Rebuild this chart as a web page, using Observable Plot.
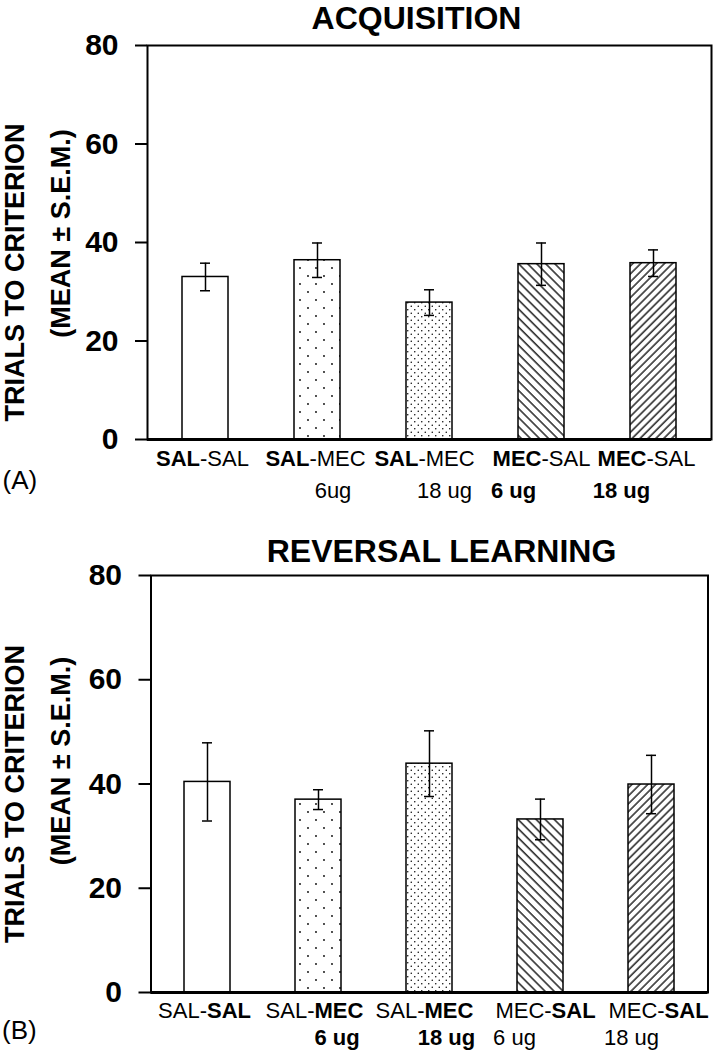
<!DOCTYPE html>
<html>
<head>
<meta charset="utf-8">
<script src="https://cdn.jsdelivr.net/npm/d3@7"></script>
<script src="https://cdn.jsdelivr.net/npm/@observablehq/plot@0.6"></script>
<style>
  body { margin: 0; background: #fff; }
  #chart svg { display: block; }
</style>
</head>
<body>
<div id="chart"></div>
<script>
// ---------------- DATA ----------------
const categories = ["SAL-SAL", "SAL-MEC 6ug", "SAL-MEC 18ug", "MEC-SAL 6ug", "MEC-SAL 18ug"];
const yTicks = [0, 20, 40, 60, 80];

const acqTitle = "ACQUISITION";
const acqMean = [33.0, 36.4, 27.8, 35.6, 35.8];
const acqSem  = [2.8, 3.5, 2.6, 4.3, 2.7];
const acqLabel1 = ["**SAL**-SAL", "**SAL**-MEC", "**SAL**-MEC", "**MEC**-SAL", "**MEC**-SAL"];
const acqLabel2 = ["", "6ug", "18 ug", "**6 ug**", "**18 ug**"];

const revTitle = "REVERSAL LEARNING";
const revMean = [40.4, 37.0, 43.9, 33.2, 39.9];
const revSem  = [7.5, 1.9, 6.3, 3.9, 5.6];
const revLabel1 = ["SAL-**SAL**", "SAL-**MEC**", "SAL-**MEC**", "MEC-**SAL**", "MEC-**SAL**"];
const revLabel2 = ["", "**6 ug**", "**18 ug**", "6 ug", "18 ug"];

const yLabel1 = "TRIALS TO CRITERION";
const yLabel2 = "(MEAN \u00B1 S.E.M.)";

// ---------------- LAYOUT ----------------
const FONT = "'Liberation Sans', Arial, Helvetica, sans-serif";

function addPatterns(svg, id) {
  const defs = d3.select(svg).insert("defs", ":first-child");
  const p1 = defs.append("pattern").attr("id", `${id}-p1`).attr("patternUnits", "userSpaceOnUse")
    .attr("width", 16).attr("height", 16);
  p1.append("rect").attr("width", 16).attr("height", 16).attr("fill", "white");
  p1.append("circle").attr("cx", 4).attr("cy", 4).attr("r", 0.9).attr("fill", "black");
  p1.append("circle").attr("cx", 12).attr("cy", 12).attr("r", 0.9).attr("fill", "black");
  const p2 = defs.append("pattern").attr("id", `${id}-p2`).attr("patternUnits", "userSpaceOnUse")
    .attr("width", 7).attr("height", 7);
  p2.append("rect").attr("width", 7).attr("height", 7).attr("fill", "white");
  p2.append("circle").attr("cx", 1.75).attr("cy", 1.75).attr("r", 0.75).attr("fill", "black");
  p2.append("circle").attr("cx", 5.25).attr("cy", 5.25).attr("r", 0.75).attr("fill", "black");
  const p3 = defs.append("pattern").attr("id", `${id}-p3`).attr("patternUnits", "userSpaceOnUse")
    .attr("width", 6.4).attr("height", 10).attr("patternTransform", "rotate(-45)");
  p3.append("rect").attr("width", 6.4).attr("height", 10).attr("fill", "white");
  p3.append("line").attr("x1", 1).attr("x2", 1).attr("y1", 0).attr("y2", 10).attr("stroke", "black").attr("stroke-width", 1.3);
  const p4 = defs.append("pattern").attr("id", `${id}-p4`).attr("patternUnits", "userSpaceOnUse")
    .attr("width", 5.6).attr("height", 10).attr("patternTransform", "rotate(45)");
  p4.append("rect").attr("width", 5.6).attr("height", 10).attr("fill", "white");
  p4.append("line").attr("x1", 1).attr("x2", 1).attr("y1", 0).attr("y2", 10).attr("stroke", "black").attr("stroke-width", 1.3);
}

function richText(svg) {
  d3.select(svg).selectAll("text").each(function () {
    const s = this.textContent;
    if (!s.includes("**")) return;
    const parts = s.split("**");
    this.textContent = "";
    parts.forEach((p, k) => {
      if (!p) return;
      const t = d3.select(this).append("tspan").text(p);
      if (k % 2 === 1) t.attr("font-weight", "bold");
    });
  });
}

function panel(cfg) {
  const fills = categories.map((c, i) => i === 0 ? "white" : `url(#${cfg.id}-p${i})`);
  const data = categories.map((c, i) => ({cat: c, mean: cfg.means[i], sem: cfg.sems[i], fill: fills[i]}));
  const labelMarks = [];
  categories.forEach((c, i) => {
    labelMarks.push(Plot.text([i], {
      x: d => categories[d], y: d => 0, text: d => cfg.label1[d],
      dx: cfg.l1dx[i], dy: cfg.l1dy, lineAnchor: "bottom", textAnchor: "middle",
      fontSize: 22, fill: "black"
    }));
    if (cfg.label2[i]) {
      labelMarks.push(Plot.text([i], {
        x: d => categories[d], y: d => 0, text: d => cfg.label2[d],
        dx: cfg.l2dx[i], dy: cfg.l2dy, lineAnchor: "bottom", textAnchor: "middle",
        fontSize: 22, fill: "black"
      }));
    }
  });

  const svg = Plot.plot({
    width: 713,
    height: cfg.height,
    marginTop: cfg.mt, marginBottom: cfg.mb, marginLeft: cfg.ml, marginRight: cfg.mr,
    style: {fontFamily: FONT, fontSize: "22px", color: "black", background: "white", overflow: "visible"},
    x: {domain: categories, axis: null, paddingInner: 0.59, paddingOuter: 0.295},
    y: {domain: [0, 80]},
    color: {type: "identity"},
    marks: [
      Plot.barY(data, {x: "cat", y: "mean", fill: "fill", stroke: "black", strokeWidth: 1.5}),
      Plot.ruleX(data, {x: "cat", y1: d => d.mean - d.sem, y2: d => d.mean + d.sem, stroke: "black", strokeWidth: 1.5}),
      Plot.tickY(data, {x: "cat", y: d => d.mean + d.sem, insetLeft: 18, insetRight: 18, stroke: "black", strokeWidth: 1.5}),
      Plot.tickY(data, {x: "cat", y: d => d.mean - d.sem, insetLeft: 18, insetRight: 18, stroke: "black", strokeWidth: 1.5}),
      Plot.frame({stroke: "black", strokeWidth: 2}),
      Plot.ruleY([0], {stroke: "black", strokeWidth: 3}),
      Plot.axisY({ticks: yTicks, tickSize: 12, tickPadding: 17, fontSize: 30, fontWeight: "bold",
                  strokeWidth: 2, label: null, tickFormat: d => String(d)}),
      Plot.text([cfg.title], {frameAnchor: "top", text: d => d, lineAnchor: "bottom",
                  dx: cfg.titleDx, dy: cfg.titleDy, fontSize: 32, fontWeight: "bold", fill: "black"}),
      Plot.text([yLabel1], {frameAnchor: "left", text: d => d, rotate: -90, lineAnchor: "middle", textAnchor: "middle",
                  dx: cfg.yl1[0], dy: cfg.yl1[1], fontSize: 27, fontWeight: "bold", fill: "black"}),
      Plot.text([yLabel2], {frameAnchor: "left", text: d => d, rotate: -90, lineAnchor: "middle", textAnchor: "middle",
                  dx: cfg.yl2[0], dy: cfg.yl2[1], fontSize: 27, fontWeight: "bold", fill: "black"}),
      Plot.text([cfg.tag], {frameAnchor: "bottom-left", text: d => d, lineAnchor: "middle", textAnchor: "start",
                  dx: cfg.tagPos[0], dy: cfg.tagPos[1], fontSize: 26, fill: "black"}),
      ...labelMarks
    ]
  });
  addPatterns(svg, cfg.id);
  richText(svg);
  return svg;
}

const panelA = panel({
  id: "acq", means: acqMean, sems: acqSem, label1: acqLabel1, label2: acqLabel2,
  title: acqTitle, tag: "(A)", height: 520, mt: 45, mb: 81, ml: 147, mr: 2,
  titleDx: -13, titleDy: -17, yl1: [-132, 30], yl2: [-86, -9], tagPos: [-145, 41],
  l1dx: [-3, -2, -5, 0, -7], l1dy: 26, l2dx: [0, 15.5, 15, -28, -32], l2dy: 58
});
const panelB = panel({
  id: "rev", means: revMean, sems: revSem, label1: revLabel1, label2: revLabel2,
  title: revTitle, tag: "(B)", height: 530, mt: 55, mb: 58, ml: 150.5, mr: 5.5,
  titleDx: 12, titleDy: -14, yl1: [-136, 10], yl2: [-90, -23], tagPos: [-149, 38],
  l1dx: [-3, -4, -5, 5, 7], l1dy: 25, l2dx: [0, 18.5, 17, -26, -20], l2dy: 52
});
document.getElementById("chart").append(panelA, panelB);
</script>
</body>
</html>
